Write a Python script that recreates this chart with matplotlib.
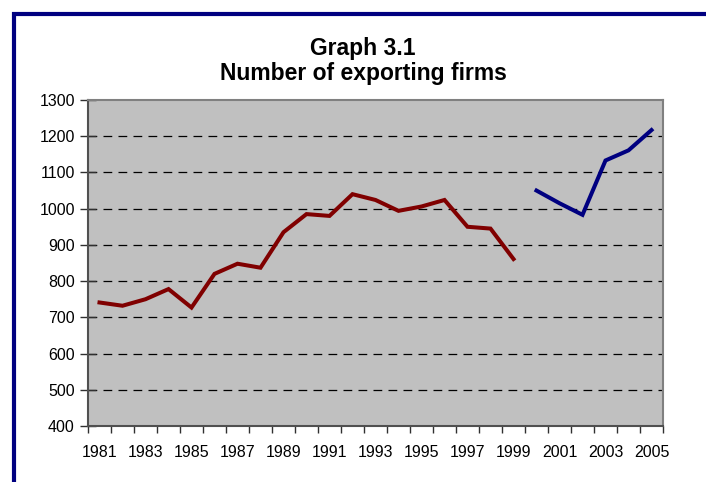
import matplotlib
matplotlib.use("Agg")
import matplotlib.pyplot as plt
from matplotlib.lines import Line2D
import numpy as np

plt.rcParams['font.family'] = ['Liberation Sans', 'DejaVu Sans']

years_old = list(range(1981, 2000))
firms_old = [741, 732, 750, 778, 727, 820, 848, 837, 935, 985, 980,
             1040, 1024, 994, 1006, 1024, 950, 945, 861]
years_new = list(range(2000, 2006))
firms_new = [1050, 1015, 983, 1133, 1161, 1217]
year_labels = list(range(1981, 2006, 2))
y_ticks = list(range(400, 1301, 100))

W, H = 706, 482
fig = plt.figure(figsize=(W / 100, H / 100), dpi=100)
fig.patch.set_facecolor('white')

ax = fig.add_axes([88 / W, 1 - 426 / H, (663 - 88) / W, (426 - 100) / H])
ax.set_facecolor('#C0C0C0')

ax.plot(years_old, firms_old, color='#800000', lw=2.9, solid_joinstyle='miter', zorder=3)
ax.plot(years_new, firms_new, color='#000080', lw=2.9, solid_joinstyle='miter', zorder=3)

ax.set_xlim(1980.5, 2005.5)
ax.set_ylim(400, 1300)

# y axis
ax.set_yticks(y_ticks)
ax.set_yticklabels([str(v) for v in y_ticks], fontsize=11.5)
ax.tick_params(axis='y', direction='inout', length=11, width=1, color='#303030', pad=4)
for v in y_ticks[1:-1]:
    ax.axhline(v, color='black', lw=0.9, ls=(0, (7, 5)), zorder=1)

# x axis: tick marks between categories, labels at every other category
bounds = np.arange(1980.5, 2006, 1.0)
ax.set_xticks(bounds)
ax.set_xticklabels([])
ax.tick_params(axis='x', which='major', direction='out', length=5, width=1, color='#303030')
ax.set_xticks(year_labels, minor=True)
ax.set_xticklabels([str(y) for y in year_labels], minor=True, fontsize=11.5)
ax.tick_params(axis='x', which='minor', length=0, pad=14)

for s in ax.spines.values():
    s.set_color('#808080')
    s.set_linewidth(1.5)
ax.spines['left'].set_color('#505050')
ax.spines['bottom'].set_color('#505050')

title_kw = dict(ha='center', va='baseline', fontsize=16.5, fontweight='bold')
fig.text(363 / W, 1 - 54.5 / H, 'Graph 3.1', **title_kw)
fig.text(363 / W, 1 - 80 / H, 'Number of exporting firms', **title_kw)

# navy frame (left and top)
fig.add_artist(Line2D([13.5 / W, 13.5 / W], [0, 1 - 12 / H], transform=fig.transFigure,
                      color='#000080', lw=3, solid_capstyle='butt'))
fig.add_artist(Line2D([12 / W, 1], [1 - 14 / H, 1 - 14 / H], transform=fig.transFigure,
                      color='#000080', lw=3, solid_capstyle='butt'))

fig.savefig('out.png', dpi=100)
